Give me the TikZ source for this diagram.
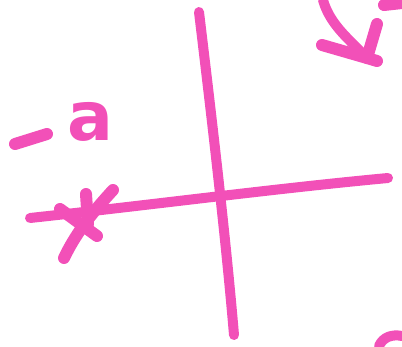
\documentclass[tikz,border=0pt]{standalone}
\usepackage{fontspec}
\setmainfont{DejaVu Sans}
\definecolor{ink}{RGB}{242,80,184}
\tikzset{pen/.style={draw=ink,line width=10pt,line cap=round,line join=round},
 thick pen/.style={draw=ink,line width=12pt,line cap=round,line join=round}}
\begin{document}
\begin{tikzpicture}[x=1pt,y=-1pt]
\useasboundingbox (0,0) rectangle (402,346);
% axes
\coordinate (vt) at (199,12);
\coordinate (vb) at (234,335);
\coordinate (hl) at (30,218);
\coordinate (hr) at (388,178);
\draw[pen] (vt) .. controls (212,120) and (226,240) .. (vb);
\draw[pen] (hl) .. controls (150,205) and (280,188) .. (hr);
% cross at -a
\coordinate (c1a) at (113,190);
\coordinate (c1b) at (64,258);
\coordinate (c2a) at (60,209);
\coordinate (c2b) at (97,236);
\coordinate (c3a) at (86,194);
\coordinate (c3b) at (88,224);
\draw[thick pen] (c1a) .. controls (90,215) and (75,235) .. (c1b);
\draw[thick pen] (c2a) -- (c2b);
\draw[thick pen] (c3a) -- (c3b);
% label
\draw[thick pen] (15,144) -- (47,134);
\node[text=ink,font=\bfseries\fontsize{68}{68}\selectfont,inner sep=0pt] (lab) at (90,122) {a};
% arrow top right
\coordinate (at) at (323,0);
\coordinate (ah) at (367,58);
\coordinate (hl1) at (322,45);
\coordinate (hr1) at (377,24);
\draw[pen] (at) .. controls (330,25) and (350,40) .. (ah);
\draw[thick pen] (hl1) -- (ah);
\draw[thick pen] (hr1) -- (ah) -- (377,61);
\draw[thick pen] (384,5) -- (402,3);
% bottom right partial shape
\draw[pen] (379,346) .. controls (383,337) and (392,334) .. (402,336);
\end{tikzpicture}
\end{document}
